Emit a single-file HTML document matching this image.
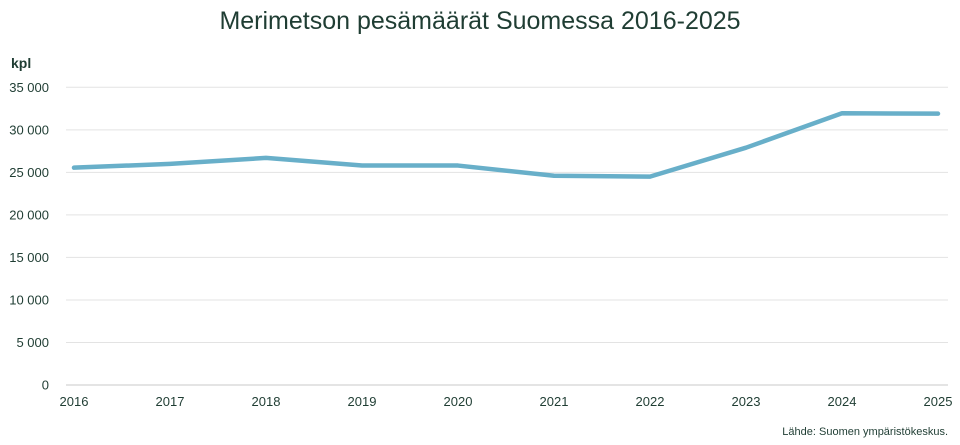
<!DOCTYPE html>
<html><head><meta charset="utf-8"><style>
body{margin:0;background:#fff;font-family:"Liberation Sans",sans-serif;}
svg text{font-family:"Liberation Sans",sans-serif;fill:#1f3d33;}
</style></head><body>
<svg width="960" height="440">
<text x="480" y="29" text-anchor="middle" font-size="25">Merimetson pesämäärät Suomessa 2016-2025</text>
<text x="11" y="68" font-size="14" font-weight="bold">kpl</text>
<g id="grid"></g><g id="yt"></g><g id="xt"></g>
<path id="line" fill="none" stroke="#68afc9" stroke-width="4.5" stroke-linejoin="round" stroke-linecap="round"/>
<text x="948" y="435" text-anchor="end" font-size="11">Lähde: Suomen ympäristökeskus.</text>
</svg>
<script>
const years=["2016","2017","2018","2019","2020","2021","2022","2023","2024","2025"];
const values=[25550,26000,26700,25800,25800,24600,24500,27900,31950,31900];
const yTicks=[0,5000,10000,15000,20000,25000,30000,35000];
const ns="http://www.w3.org/2000/svg";
const x0=74,x1=938,yb=385,yt=87.3,ymax=35000;
const X=i=>x0+(x1-x0)*i/(years.length-1);
const Y=v=>yb-(yb-yt)*v/ymax;
const g=document.getElementById('grid'),ty=document.getElementById('yt'),tx=document.getElementById('xt');
yTicks.forEach(v=>{
 const l=document.createElementNS(ns,'line');
 l.setAttribute('x1',66);l.setAttribute('x2',948);l.setAttribute('y1',Y(v));l.setAttribute('y2',Y(v));
 l.setAttribute('stroke',v===0?'#c8c8c8':'#e3e3e3');l.setAttribute('stroke-width',1);
 
 
 g.appendChild(l);
 const t=document.createElementNS(ns,'text');
 t.setAttribute('x',49);t.setAttribute('y',Y(v)+4.5);t.setAttribute('text-anchor','end');t.setAttribute('font-size','13');
 t.textContent=v===0?'0':v.toLocaleString('fi-FI').replace(/\s/g,' ');
 
 
 ty.appendChild(t);
});
years.forEach((yr,i)=>{
 const t=document.createElementNS(ns,'text');
 t.setAttribute('x',X(i));t.setAttribute('y',406);t.setAttribute('text-anchor','middle');t.setAttribute('font-size','13');
 t.textContent=yr;
 
 
 tx.appendChild(t);
});
document.getElementById('line').setAttribute('d',values.map((v,i)=>(i?'L':'M')+X(i)+','+Y(v)).join(' '));
</script>
</body></html>
